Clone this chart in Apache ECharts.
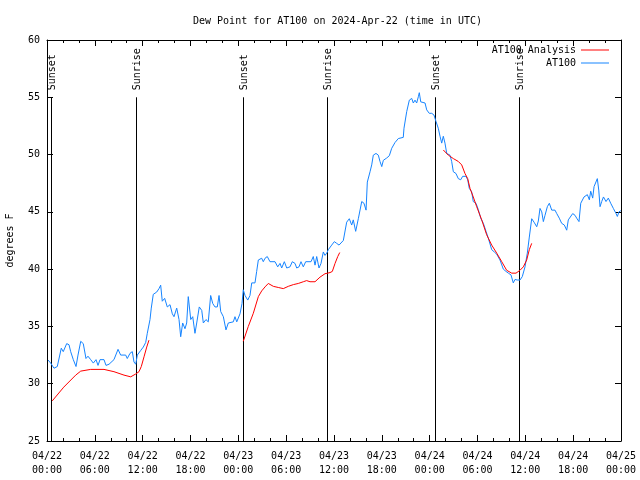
<!DOCTYPE html>
<html>
<head>
<meta charset="utf-8">
<script src="https://cdn.jsdelivr.net/npm/echarts@6/dist/echarts.min.js"></script>
<style>html,body{margin:0;padding:0;background:#fff}#c{width:640px;height:480px}</style>
</head>
<body>
<div id="c"></div>
<script>
// Hours since 2024-04-22 00:00 UTC
const obsHours = [0.13,0.46,0.88,1.29,1.51,1.79,2.04,2.47,2.76,2.97,3.30,3.64,3.89,4.23,4.55,4.89,5.14,5.48,5.81,6.15,6.40,6.65,7.15,7.40,7.78,8.40,8.91,9.24,9.87,10.07,10.41,10.70,10.91,11.13,11.33,11.75,12.08,12.38,12.58,12.92,13.08,13.33,13.76,14.05,14.26,14.46,14.76,15.09,15.43,15.72,15.93,16.27,16.56,16.77,17.02,17.31,17.52,17.72,18.03,18.28,18.56,18.78,19.10,19.41,19.61,19.94,20.23,20.53,20.79,21.07,21.36,21.58,21.79,22.12,22.45,22.74,23.37,23.58,23.80,24.21,24.46,24.62,24.84,25.18,25.46,25.68,25.88,26.09,26.30,26.51,26.72,26.93,27.13,27.35,27.63,27.97,28.60,28.94,29.23,29.44,29.77,30.07,30.48,30.77,31.11,31.32,31.61,31.86,32.15,32.45,33.12,33.40,33.62,33.83,34.12,34.37,34.66,34.87,35.09,35.29,35.71,36.04,36.34,36.63,36.88,37.17,37.59,37.92,38.22,38.42,38.72,39.05,39.48,39.76,40.02,40.18,40.52,40.73,40.93,41.27,41.56,41.77,41.99,42.19,42.61,42.94,43.24,43.65,44.07,44.69,44.78,45.12,45.45,45.75,45.95,46.16,46.37,46.58,46.70,46.88,47.13,47.42,47.63,47.95,48.26,48.54,48.79,49.08,49.30,49.51,49.71,49.92,50.14,50.34,50.55,50.76,50.97,51.30,51.59,51.89,52.14,52.55,52.77,52.97,53.27,53.47,53.81,54.10,54.40,54.73,55.07,55.36,55.78,56.11,56.41,56.82,57.24,57.58,57.87,58.20,58.49,58.70,58.99,59.33,59.62,59.96,60.25,60.50,60.80,61.09,61.43,61.63,61.84,62.06,62.26,62.47,62.76,63.01,63.31,63.72,63.94,64.26,64.56,64.89,65.19,65.39,65.60,65.94,66.23,66.44,66.73,66.95,67.20,67.36,67.61,67.78,68.03,68.20,68.45,68.62,68.87,69.03,69.21,69.37,69.58,69.80,70.12,70.41,70.71,71.04,71.38,71.54,71.75,71.97];
const obsDew = [32.07,31.8,31.35,31.5,31.6,33.1,32.8,33.5,33.4,32.8,32.1,31.5,32.5,33.7,33.5,32.2,32.4,32.1,31.8,32.1,31.6,32.1,32.1,31.6,31.7,32.1,33.0,32.5,32.5,32.2,32.65,32.8,31.9,31.7,32.5,32.9,33.2,33.6,34.4,35.6,36.6,37.8,38.0,38.3,38.6,37.2,37.45,36.7,36.9,36.1,35.85,36.6,35.6,34.1,35.3,34.8,35.3,37.6,35.6,35.85,34.4,35.3,36.7,36.4,35.3,35.6,35.4,37.7,37.0,36.7,36.7,37.7,36.3,35.85,34.7,35.3,35.4,35.85,35.4,36.1,37.0,38.2,37.7,37.3,37.7,38.8,38.9,38.8,39.8,40.8,40.65,40.95,40.65,40.95,41.1,40.65,40.65,40.2,40.5,40.1,40.65,40.1,40.2,40.65,40.5,40.1,40.2,40.65,40.2,40.65,40.65,41.1,40.35,41.1,40.1,40.5,41.5,41.2,41.4,41.7,42.1,42.4,42.25,42.1,41.95,42.5,44.1,44.4,43.85,44.3,43.3,44.4,45.9,45.75,45.15,47.6,48.5,49.1,49.95,50.1,49.95,49.4,48.95,49.5,49.7,49.9,50.55,51.05,51.4,51.5,52.3,53.75,54.75,54.9,54.5,54.75,54.5,55.05,55.4,54.6,54.75,54.5,53.9,53.6,53.6,53.45,52.9,52.3,51.6,51.0,51.6,51.0,50.1,50.25,49.95,49.4,48.5,48.35,47.9,47.8,48.1,48.1,47.8,47.05,46.75,45.9,45.75,45.2,44.45,44.0,43.3,42.7,41.7,41.5,41.3,40.8,40.0,39.8,39.65,39.5,38.8,39.1,39.05,39.05,39.35,40.2,41.4,42.8,44.4,44.1,43.7,44.2,45.3,45.0,44.15,44.7,45.45,45.75,45.15,45.15,44.85,44.45,44.0,43.85,43.4,44.3,44.45,44.85,44.7,44.45,44.15,45.75,45.6,46.3,46.2,46.5,46.05,46.8,46.2,47.2,47.05,47.9,46.9,45.45,45.9,46.3,45.9,46.2,45.75,45.3,44.85,44.6,45.0,45.1];

const anaHours1 = [0.66,2.10,3.60,4.23,5.48,7.15,8.40,9.66,10.50,11.13,11.54,11.83,12.17,12.51,12.79];
const anaDew1   = [28.5,29.7,30.75,31.1,31.25,31.25,31.05,30.75,30.6,30.85,31.05,31.5,32.35,33.2,33.8];
const anaHours2 = [24.62,25.25,25.88,26.51,26.93,27.35,27.76,28.39,29.01,29.64,30.27,30.90,31.52,32.15,32.57,32.99,33.62,34.24,34.87,35.50,35.79,36.13,36.47,36.72];
const anaDew2   = [33.7,35.0,36.15,37.6,38.1,38.45,38.75,38.5,38.4,38.3,38.5,38.65,38.75,38.9,39.0,38.9,38.9,39.3,39.6,39.7,39.8,40.5,41.1,41.45];
const anaHours3 = [49.71,50.34,50.97,51.59,52.02,52.43,52.77,53.06,53.47,53.90,54.53,55.15,55.78,56.41,57.04,57.66,58.29,58.83,59.33,59.75,60.17,60.50,60.80];
const anaDew3   = [50.4,49.95,49.65,49.4,49.1,48.35,47.9,47.05,46.3,45.45,44.3,43.0,42.1,41.4,40.65,39.9,39.65,39.65,39.9,40.2,40.8,41.7,42.25];

const sunHours  = [0.5, 11.2, 24.62, 35.16, 48.7, 59.25];
const sunLabels = ['Sunset','Sunrise','Sunset','Sunrise','Sunset','Sunrise'];
const sunLineRange = [25, 55];

const xTickDays = ['04/22','04/23','04/24','04/25'];

const FONT = 'DejaVu Sans Mono';
const obsData = obsHours.map((h,i)=>[h, obsDew[i]]);
const anaData = [];
[[anaHours1,anaDew1],[anaHours2,anaDew2],[anaHours3,anaDew3]].forEach(([hs,ds],k)=>{
  if (k>0) anaData.push([hs[0]-0.01, null]);
  hs.forEach((h,i)=>anaData.push([h, ds[i]]));
});

function xLabel(v){
  const d = Math.floor(v/24);
  const hh = Math.round(v - d*24);
  return xTickDays[d] + '\n' + String(hh).padStart(2,'0') + ':00';
}

const chart = echarts.init(document.getElementById('c'), null, {renderer:'canvas'});
const xBase = {
  type:'value', min:0, max:72, interval:6,
  axisLine:{show:true, onZero:false, lineStyle:{color:'#000', width:1}},
  axisTick:{show:true, inside:true, length:6, lineStyle:{color:'#000'}},
  minorTick:{show:true, splitNumber:3, length:3, lineStyle:{color:'#000'}},
  splitLine:{show:false}, minorSplitLine:{show:false}
};
const yBase = {
  type:'value', min:25, max:60, interval:5,
  axisLine:{show:true, onZero:false, lineStyle:{color:'#000', width:1}},
  axisTick:{show:true, inside:true, length:6, lineStyle:{color:'#000'}},
  splitLine:{show:false}
};
chart.setOption({
  animation:false,
  backgroundColor:'#fff',
  textStyle:{fontFamily:FONT},
  title:{text:'Dew Point for AT100 on 2024-Apr-22 (time in UTC)', left:188, top:11,
    textStyle:{fontFamily:FONT, fontSize:10, fontWeight:'normal', color:'#000'}},
  legend:[
    {data:['AT100 Analysis'], right:26, top:40, align:'right', orient:'vertical', icon:'rect',
      itemWidth:28, itemHeight:1, textStyle:{fontFamily:FONT, fontSize:10, color:'#000'}},
    {data:['AT100'], right:26, top:53, align:'right', orient:'vertical', icon:'rect',
      itemWidth:28, itemHeight:1, textStyle:{fontFamily:FONT, fontSize:10, color:'#000'}}
  ],
  grid:{left:47, right:19, top:40, bottom:39, containLabel:false, outerBoundsMode:'none'},
  xAxis:[
    Object.assign({}, xBase, {position:'bottom',
      axisLabel:{formatter:xLabel, fontFamily:FONT, fontSize:10, color:'#000', margin:8, lineHeight:14}}),
    Object.assign({}, xBase, {position:'top', axisLabel:{show:false}})
  ],
  yAxis:[
    Object.assign({}, yBase, {position:'left', name:'degrees F', nameLocation:'middle', nameRotate:90, nameGap:32,
      nameTextStyle:{fontFamily:FONT, fontSize:10, color:'#000'},
      axisLabel:{fontFamily:FONT, fontSize:10, color:'#000', margin:7}}),
    Object.assign({}, yBase, {position:'right', axisLabel:{show:false}})
  ],
  series:[
    {
      type:'custom', name:'sun', xAxisIndex:0, yAxisIndex:0, silent:true, z:1,
      data: sunHours.map(h=>[h]),
      renderItem:(params, api)=>{
        const h = api.value(0);
        const p0 = api.coord([h, sunLineRange[0]]);
        const p1 = api.coord([h, sunLineRange[1]]);
        const x = Math.round(p0[0]) + 0.5;
        return {type:'group', children:[
          {type:'line', shape:{x1:x, y1:p0[1], x2:x, y2:p1[1]}, style:{stroke:'#000', lineWidth:1}},
          {type:'text', x:x+1, y:p1[1]-7, rotation:Math.PI/2,
            style:{text:sunLabels[params.dataIndex], font:'10px "DejaVu Sans Mono"', fill:'#000', align:'left', verticalAlign:'middle'}}
        ]};
      }
    },
    {
      type:'line', name:'AT100 Analysis', xAxisIndex:0, yAxisIndex:0, data:anaData,
      showSymbol:false, connectNulls:false, z:3,
      lineStyle:{color:'#ff0000', width:1}, itemStyle:{color:'#ff0000'}
    },
    {
      type:'line', name:'AT100', xAxisIndex:0, yAxisIndex:0, data:obsData,
      showSymbol:false, z:2,
      lineStyle:{color:'#1584ff', width:1}, itemStyle:{color:'#1584ff'}
    }
  ]
});
</script>
</body>
</html>
